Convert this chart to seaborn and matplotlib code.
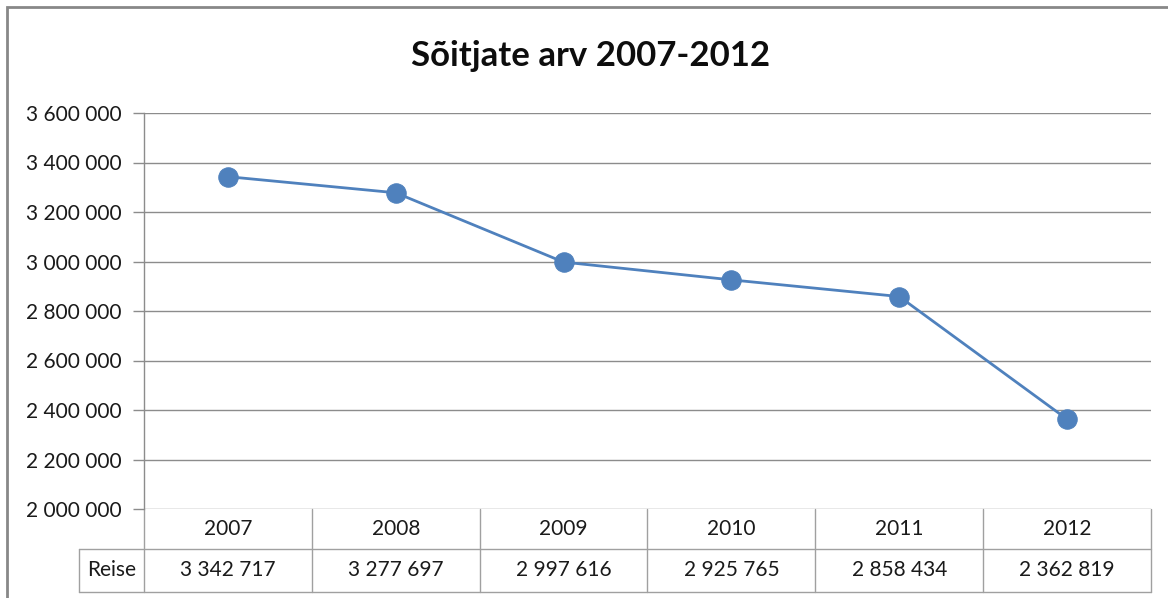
import matplotlib
matplotlib.use("Agg")
import matplotlib.pyplot as plt
import matplotlib.patches as mpatches
import matplotlib.ticker as mticker
import seaborn as sns
import pandas as pd

years = ["2007", "2008", "2009", "2010", "2011", "2012"]
reise = [3342717, 3277697, 2997616, 2925765, 2858434, 2362819]
series_name = "Reise"
title = "Sõitjate arv 2007-2012"
y_ticks = [2000000, 2200000, 2400000, 2600000, 2800000, 3000000, 3200000, 3400000, 3600000]

sns.set_theme(style="white")
plt.rcParams['font.family'] = ['Lato', 'DejaVu Sans']

W, H = 1168, 598
fig = plt.figure(figsize=(W / 100, H / 100), dpi=100)
L, R, T, B = 144, 1151, 113, 509
ax = fig.add_axes([L / W, 1 - B / H, (R - L) / W, (B - T) / H])

df = pd.DataFrame({"year": years, "value": reise})
BLUE = "#4F81BD"
GRID = "#8C8C8C"
TXT = "#1a1a1a"
sns.lineplot(data=df, x="year", y="value", ax=ax, color=BLUE, linewidth=2,
             marker="o", markersize=14, markeredgecolor=BLUE, sort=False)

ax.set_xlim(-0.5, len(years) - 0.5)
ax.set_ylim(y_ticks[0], y_ticks[-1])
ax.set_yticks(y_ticks)
ax.yaxis.set_major_formatter(mticker.FuncFormatter(lambda v, p: f"{int(v):,}".replace(",", " ")))
ax.tick_params(axis="y", labelsize=15, length=8, width=1, color=GRID, pad=8, left=True, labelcolor=TXT)
ax.set_xticks([])
ax.set_xlabel("")
ax.set_ylabel("")
ax.grid(axis="y", color=GRID, linewidth=1)
for s in ["top", "right", "bottom"]:
    ax.spines[s].set_visible(False)
ax.spines["left"].set_color(GRID)
ax.spines["left"].set_linewidth(1)

# data table
plot_h = B - T
r1 = -(549 - B) / plot_h
r2 = -(592 - B) / plot_h
col_w = (R - L) / len(years)
lab_left = -0.5 - (L - 79) / col_w
trans = ax.get_xaxis_transform()
lc = "#A0A0A0"
kw = dict(color=lc, linewidth=1, transform=trans, clip_on=False)
ax.plot([-0.5, -0.5], [0, r2], **kw)
for i in range(len(years)):
    ax.plot([i + 0.5, i + 0.5], [0, r2], **kw)
ax.plot([lab_left, len(years) - 0.5], [r1, r1], **kw)
ax.plot([lab_left, len(years) - 0.5], [r2, r2], **kw)
ax.plot([lab_left, lab_left], [r1, r2], **kw)
for i, (yr, v) in enumerate(zip(years, reise)):
    ax.text(i, r1 / 2, yr, transform=trans, ha="center", va="center", fontsize=15, color=TXT)
    ax.text(i, (r1 + r2) / 2, f"{v:,}".replace(",", " "), transform=trans, ha="center", va="center",
            fontsize=15, color=TXT)
ax.text((lab_left - 0.5) / 2, (r1 + r2) / 2, series_name, transform=trans, ha="center", va="center",
        fontsize=15, color=TXT)

fig.text(591 / W, 1 - 56 / H, title, ha="center", va="center", fontsize=25, fontweight="bold", color="#0d0d0d")

border = mpatches.Rectangle((7 / W, -0.1), 1.2, 1 - 7 / H + 0.1, transform=fig.transFigure,
                            fill=False, edgecolor="#888888", linewidth=2, clip_on=False)
fig.patches.append(border)

fig.savefig("out.png", dpi=100)
